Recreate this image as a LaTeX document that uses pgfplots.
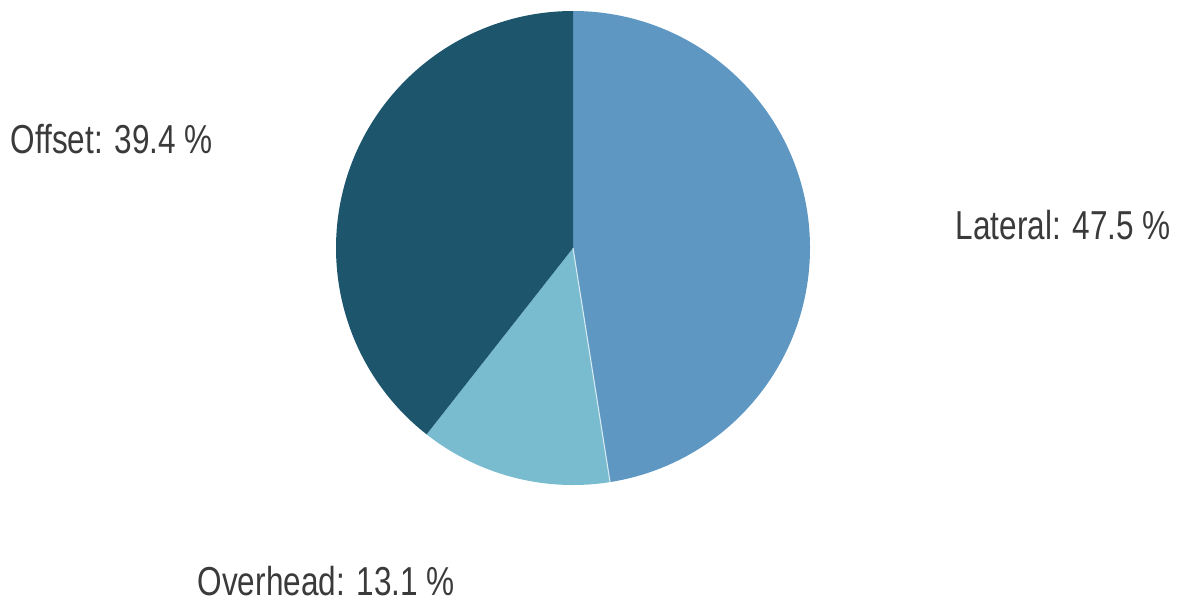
\documentclass[border=0pt]{standalone}
\usepackage{fontspec}
\setmainfont{Liberation Sans}[FakeStretch=0.78]
\usepackage{pgfplots}
\usepackage{pgfplotstable}
\pgfplotsset{compat=1.18}

\definecolor{lateral}{HTML}{5F97C3}
\definecolor{overhead}{HTML}{7ABCCF}
\definecolor{offset}{HTML}{1D566C}
\definecolor{labeltext}{HTML}{3A3A3A}

% share of each slice, in percent, clockwise from the top
\pgfplotstableread{
name     value
Lateral  47.5
Overhead 13.1
Offset   39.4
}\piedata

\begin{document}
\begin{tikzpicture}
\pgfplotstablegetelem{0}{value}\of\piedata \let\vA\pgfplotsretval
\pgfplotstablegetelem{1}{value}\of\piedata \let\vB\pgfplotsretval
\pgfplotstablegetelem{2}{value}\of\piedata \let\vC\pgfplotsretval
\pgfmathsetmacro\aA{90-3.6*\vA}
\pgfmathsetmacro\aB{\aA-3.6*\vB}
\pgfmathsetmacro\aC{\aB-3.6*\vC}
\useasboundingbox (0,0) rectangle (11.81cm,5.99cm);
\begin{axis}[
    at={(0,0)}, anchor=origin,
    width=11.81cm, height=5.99cm, scale only axis,
    xmin=0, xmax=1181, ymin=0, ymax=599,
    hide axis, clip=false,
  ]
  \fill[lateral]  (axis cs:573,351) -- ++(90:2.37cm)
    arc[start angle=90, end angle=\aA, radius=2.37cm] -- cycle;
  \fill[overhead] (axis cs:573,351) -- ++(\aA:2.37cm)
    arc[start angle=\aA, end angle=\aB, radius=2.37cm] -- cycle;
  \fill[offset]   (axis cs:573,351) -- ++(\aB:2.37cm)
    arc[start angle=\aB, end angle=\aC, radius=2.37cm] -- cycle;
  \draw[white!70!overhead, line width=0.3pt] (axis cs:573,351) -- ++(\aA:2.37cm);

  \tikzset{pielabel/.style={anchor=base west, text=labeltext, inner sep=0pt,
      font=\fontsize{11.5}{14}\selectfont}}
  \node[pielabel] at (axis cs:955,360) {Lateral: \vA\ \%};
  \node[pielabel] at (axis cs:197,4)   {Overhead: \vB\ \%};
  \node[pielabel] at (axis cs:10,446)  {Offset: \vC\ \%};
\end{axis}
\end{tikzpicture}
\end{document}
